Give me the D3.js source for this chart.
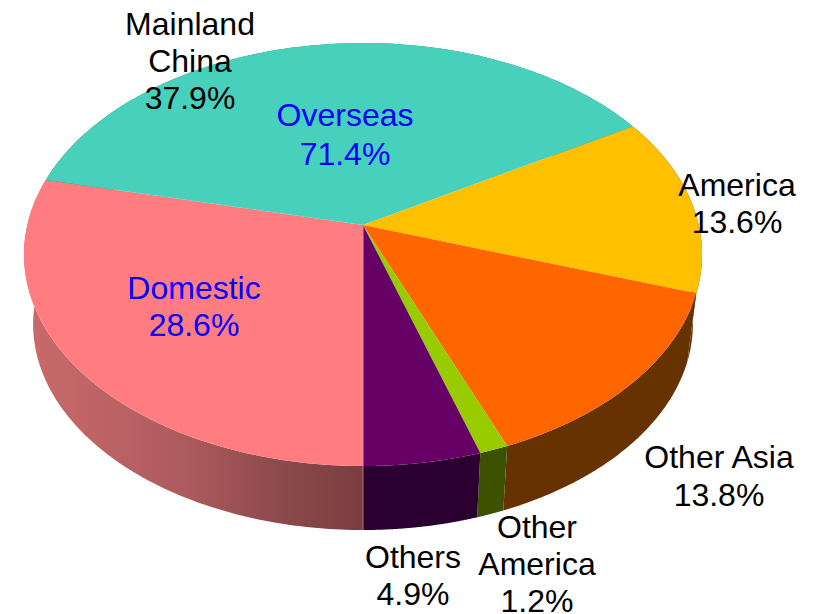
<!DOCTYPE html>
<html>
<head>
<meta charset="utf-8">
<script src="https://cdn.jsdelivr.net/npm/d3@7/dist/d3.min.js"></script>
<style>
html,body{margin:0;padding:0;background:#fff}
svg{display:block}
text{font-family:"Liberation Sans",Arial,sans-serif;font-size:32px;text-anchor:middle}
</style>
</head>
<body>
<script>
// Revenue split by region, as shares of the total (clockwise from the front of the disc)
const categories = ["Domestic", "Mainland China", "America", "Other Asia", "Other America", "Others"];
const shares = [28.6, 37.9, 13.6, 13.8, 1.2, 4.9];
const faceColors = ["#ff7c80", "#47d1bd", "#ffc000", "#ff6600", "#99cc00", "#660066"];
const wallColors = ["url(#domesticWall)", "#2a8072", "#663300", "#663300", "#3d5200", "#2b0030"];

// Text blocks: centre x, first baseline, line spacing, colour, lines
const labelX = [190, 345, 194, 737, 719, 413, 537];
const labelY = [35, 126, 299, 196, 468, 568, 538];
const labelLeading = [37, 39, 37, 37, 38, 37, 37];
const labelColor = ["#000", "#0000ff", "#0000ff", "#000", "#000", "#000", "#000"];
const labelLines = [
  ["Mainland", "China", "37.9%"],
  ["Overseas", "71.4%"],
  ["Domestic", "28.6%"],
  ["America", "13.6%"],
  ["Other Asia", "13.8%"],
  ["Others", "4.9%"],
  ["Other", "America", "1.2%"]
];

const width = 814, height = 614;
const svg = d3.select("body").append("svg").attr("width", width).attr("height", height);

// Perspective view of a flat disc: far side foreshortened, hub above the ellipse centre
const tilt = -0.1395;
const xScale = d3.scaleLinear().domain([-1, 1]).range([363 - 335.7, 363 + 335.7]);
const yScale = d3.scaleLinear().domain([-1, 1]).range([225 - 207.4, 225 + 207.4]);
const lowerScale = 0.973, lowerDrop = 70.5;

function topPoint(angle, r = 1) {
  const u = r * Math.sin(angle), v = -r * Math.cos(angle), w = 1 + tilt * v;
  return [xScale(u / w), yScale(v / w)];
}
function bottomPoint(angle) {
  const [x, y] = topPoint(angle);
  return [363 + lowerScale * (x - 363), 225 + lowerDrop + lowerScale * (y - 225)];
}

const pie = d3.pie().sort(null).startAngle(Math.PI).endAngle(3 * Math.PI);
const arcs = pie(shares);
const line = d3.line();
const sweep = d => d3.range(0, 121).map(i => d.startAngle + (d.endAngle - d.startAngle) * i / 120);

const defs = svg.append("defs");
const grad = defs.append("linearGradient").attr("id", "domesticWall")
  .attr("gradientUnits", "userSpaceOnUse").attr("x1", 30).attr("x2", 363).attr("y1", 0).attr("y2", 0);
grad.selectAll("stop")
  .data([[0, "#c96a6c"], [0.3, "#b86063"], [0.47, "#ad5a5c"], [0.75, "#8c4a4c"], [1, "#7a3d40"]])
  .join("stop").attr("offset", d => d[0]).attr("stop-color", d => d[1]);

// Side walls first, then the top faces over them
svg.append("g").selectAll("path").data(arcs).join("path")
  .attr("d", d => {
    const a = sweep(d);
    return line([...a.map(t => topPoint(t)), ...a.slice().reverse().map(bottomPoint)]) + "Z";
  })
  .attr("fill", (d, i) => wallColors[i]);

svg.append("g").selectAll("path").data(arcs).join("path")
  .attr("d", d => line([topPoint(0, 0), ...sweep(d).map(t => topPoint(t))]) + "Z")
  .attr("fill", (d, i) => faceColors[i]);

// Pale seam where the first slice starts, on the face and down the wall
const seamAngle = arcs[0].startAngle;
svg.append("path")
  .attr("d", line([topPoint(0, 0), topPoint(seamAngle)]))
  .attr("stroke", "#e98aa6").attr("stroke-width", 1).attr("fill", "none");
svg.append("path")
  .attr("d", line([topPoint(seamAngle), bottomPoint(seamAngle)]))
  .attr("stroke", "#a5767c").attr("stroke-width", 1).attr("fill", "none");

// Labels
const blocks = svg.append("g").selectAll("text").data(labelLines).join("text")
  .attr("fill", (d, i) => labelColor[i]);
blocks.each(function (lines, i) {
  d3.select(this).selectAll("tspan").data(lines).join("tspan")
    .attr("x", labelX[i])
    .attr("y", (d, j) => labelY[i] + j * labelLeading[i])
    .text(d => d);
});
</script>
</body>
</html>
